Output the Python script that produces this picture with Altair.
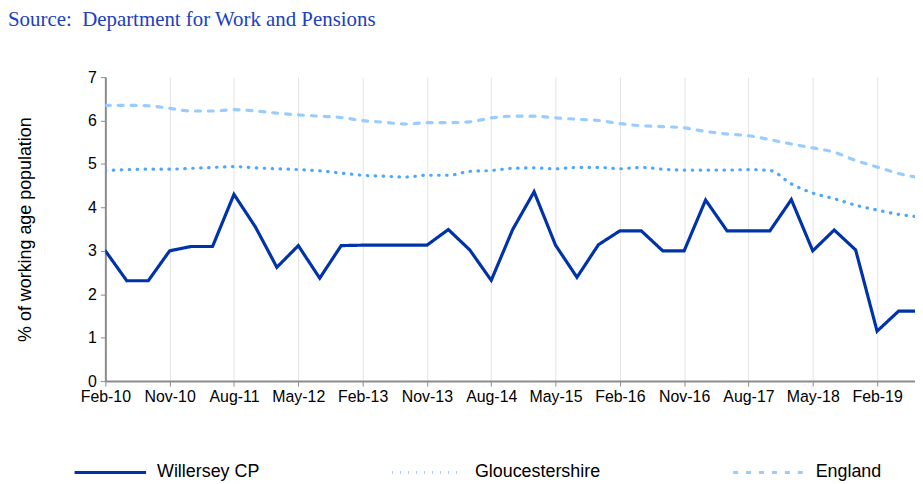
import altair as alt
import pandas as pd

quarters = [
    "Feb-10", "May-10", "Aug-10", "Nov-10", "Feb-11", "May-11", "Aug-11", "Nov-11",
    "Feb-12", "May-12", "Aug-12", "Nov-12", "Feb-13", "May-13", "Aug-13", "Nov-13",
    "Feb-14", "May-14", "Aug-14", "Nov-14", "Feb-15", "May-15", "Aug-15", "Nov-15",
    "Feb-16", "May-16", "Aug-16", "Nov-16", "Feb-17", "May-17", "Aug-17", "Nov-17",
    "Feb-18", "May-18", "Aug-18", "Nov-18", "Feb-19", "May-19", "Aug-19",
]
tick_labels = ["Feb-10", "Nov-10", "Aug-11", "May-12", "Feb-13", "Nov-13", "Aug-14",
               "May-15", "Feb-16", "Nov-16", "Aug-17", "May-18", "Feb-19"]

willersey = [3.0, 2.31, 2.31, 3.0, 3.1, 3.1, 4.3, 3.55, 2.62, 3.12, 2.37, 3.12, 3.13,
             3.13, 3.13, 3.13, 3.49, 3.02, 2.32, 3.49, 4.36, 3.13, 2.39, 3.14, 3.46,
             3.46, 3.0, 3.0, 4.17, 3.46, 3.46, 3.46, 4.18, 3.0, 3.48, 3.02, 1.15, 1.61, 1.61]
gloucestershire = [4.85, 4.87, 4.88, 4.88, 4.9, 4.92, 4.94, 4.91, 4.89, 4.87, 4.84, 4.79,
                   4.74, 4.72, 4.70, 4.74, 4.74, 4.83, 4.85, 4.9, 4.91, 4.89, 4.92, 4.92,
                   4.89, 4.92, 4.88, 4.86, 4.86, 4.86, 4.87, 4.85, 4.54, 4.33, 4.2, 4.05,
                   3.94, 3.84, 3.78]
england = [6.35, 6.35, 6.34, 6.28, 6.22, 6.22, 6.25, 6.22, 6.17, 6.13, 6.1, 6.07, 6.0,
           5.96, 5.92, 5.95, 5.95, 5.97, 6.06, 6.1, 6.1, 6.06, 6.03, 6.0, 5.93, 5.88,
           5.86, 5.83, 5.75, 5.69, 5.65, 5.56, 5.46, 5.37, 5.27, 5.08, 4.93, 4.78, 4.68]

series_names = ["Willersey CP", "Gloucestershire", "England"]
series_values = [willersey, gloucestershire, england]
colors = ["#0033aa", "#4da6ff", "#99ccff"]

rows = []
for name, vals in zip(series_names, series_values):
    for q, v in zip(quarters, vals):
        rows.append({"quarter": q, "value": v, "series": name})
df = pd.DataFrame(rows)

x_enc = alt.X("quarter:O", sort=quarters,
              scale=alt.Scale(type="point", padding=0, range=[0, 820]),
              axis=alt.Axis(values=tick_labels, labelAngle=0, title=None, grid=True,
                            gridColor="#e4e4e4", gridWidth=1, domainColor="#8c8c8c",
                            domainWidth=2, tickColor="#8c8c8c", tickSize=5, tickWidth=1,
                            labelFontSize=16, labelColor="#000000", labelPadding=3,
                            labelFont="Liberation Sans"))
y_enc = alt.Y("value:Q", scale=alt.Scale(domain=[0, 7]),
              axis=alt.Axis(values=[0, 1, 2, 3, 4, 5, 6, 7], grid=False,
                            title="% of working age population", titleFontSize=18,
                            titleFontWeight="normal", titleColor="#000000",
                            titleFont="Liberation Sans", titlePadding=53,
                            domainColor="#8c8c8c", domainWidth=2, tickColor="#8c8c8c",
                            tickSize=5, labelFontSize=16, labelColor="#000000",
                            labelPadding=4, labelFont="Liberation Sans"))

color_enc = alt.Color("series:N", sort=series_names,
                      scale=alt.Scale(domain=series_names, range=colors),
                      legend=alt.Legend(title=None, orient="none", legendX=-33, legendY=360,
                                        direction="horizontal", columnPadding=126,
                                        symbolType="stroke", symbolSize=5184,
                                        symbolStrokeWidth=2, labelFontSize=18,
                                        labelFont="Liberation Sans", labelColor="#000000",
                                        labelOffset=9, labelLimit=300))
dash_enc = alt.StrokeDash("series:N", sort=series_names,
                          scale=alt.Scale(domain=series_names,
                                          range=[[1, 0], [0.5, 7.5], [5, 8]]),
                          legend=None)
width_enc = alt.StrokeWidth("series:N", sort=series_names,
                            scale=alt.Scale(domain=series_names, range=[3.2, 3.2, 4]),
                            legend=None)

base = alt.Chart(df).encode(x=x_enc, y=y_enc, color=color_enc,
                            strokeDash=dash_enc, strokeWidth=width_enc)

smooth = base.mark_line(clip=True, strokeCap="round", interpolate="monotone").transform_filter(
    alt.datum.series != "Willersey CP")
local = base.mark_line(clip=True, strokeCap="round", strokeJoin="miter",
                       interpolate="linear").transform_filter(
    alt.datum.series == "Willersey CP")

chart = alt.layer(smooth, local).properties(
    width=815,
    height=306,
    padding={"left": 98, "top": 68, "right": 0, "bottom": 100},
    autosize=alt.AutoSizeParams(type="none"),
    title=alt.TitleParams("Source:\u00a0 Department for Work and Pensions", anchor="start",
                          frame="group", dx=-98, offset=39, fontSize=21,
                          font="Liberation Serif", fontWeight="normal", color="#2040c0"),
).configure_view(stroke=None)

chart.save("out.html", embed_options={"renderer": "svg", "actions": False})
